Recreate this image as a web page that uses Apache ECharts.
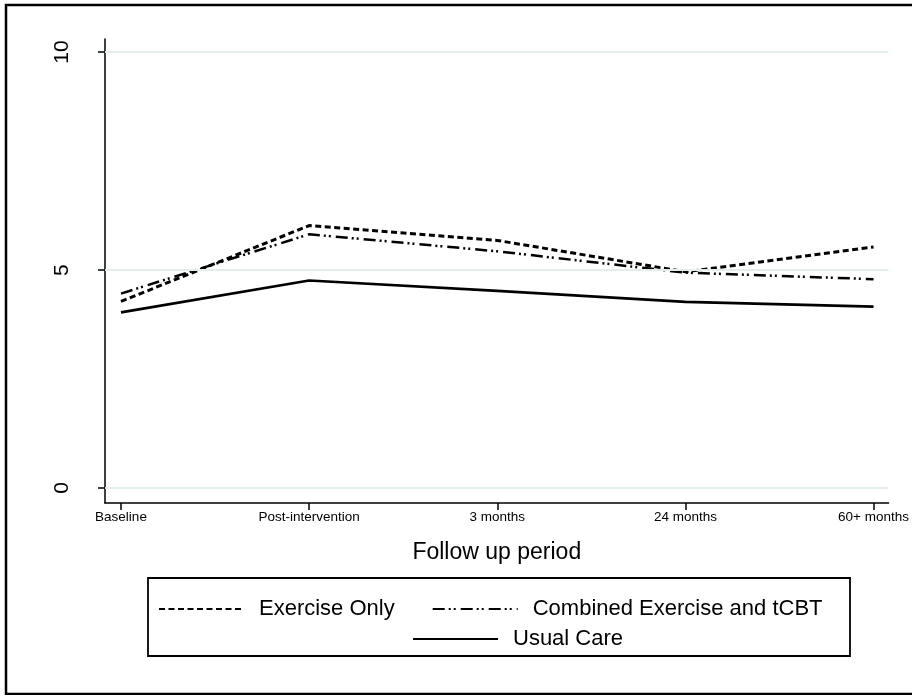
<!DOCTYPE html>
<html>
<head>
<meta charset="utf-8">
<script src="https://cdn.jsdelivr.net/npm/echarts@6/dist/echarts.min.js"></script>
<style>
html,body{margin:0;padding:0;background:#fff;}
#chart{width:912px;height:695px;}
</style>
</head>
<body>
<div id="chart"></div>
<script>
var categories = ['Baseline', 'Post-intervention', '3 months', '24 months', '60+ months'];
var exerciseOnly = [4.28, 6.02, 5.68, 4.96, 5.53];
var combinedExercise = [4.46, 5.82, 5.43, 4.94, 4.79];
var usualCare = [4.03, 4.76, 4.52, 4.27, 4.16];
var yTicks = [0, 5, 10];
var seriesNames = ['Exercise Only', 'Combined Exercise and tCBT', 'Usual Care'];

function pairs(vals) { return categories.map(function (c, i) { return [i, vals[i]]; }); }
var FONT = '"Liberation Sans", Arial, sans-serif';
var xIdx = categories.map(function (c, i) { return i; });

var chart = echarts.init(document.getElementById('chart'), null, {renderer: 'canvas'});
chart.setOption({
  animation: false,
  backgroundColor: '#ffffff',
  grid: {left: 105, right: 20, top: 39, bottom: 192, containLabel: false},
  xAxis: {
    type: 'value', min: -0.085, max: 4.08,
    name: 'Follow up period', nameLocation: 'middle', nameGap: 38,
    nameTextStyle: {fontFamily: FONT, fontSize: 23, color: '#000'},
    axisLine: {show: true, onZero: false, lineStyle: {color: '#000', width: 1.5}},
    axisTick: {show: true, length: 7, lineStyle: {color: '#000', width: 1.5}, customValues: xIdx},
    axisLabel: {show: true, margin: 7, fontFamily: FONT, fontSize: 13.5, color: '#000',
      customValues: xIdx,
      formatter: function (v) { return categories[Math.round(v)]; }},
    splitLine: {show: false}
  },
  yAxis: {
    type: 'value', min: -0.344, max: 10.3,
    axisLine: {show: true, onZero: false, lineStyle: {color: '#000', width: 1.5}},
    axisTick: {show: true, length: 7, lineStyle: {color: '#000', width: 1.5}, customValues: yTicks},
    axisLabel: {show: true, rotate: 90, margin: 32, fontFamily: FONT, fontSize: 21, color: '#000', customValues: yTicks},
    splitLine: {show: false}
  },
  legend: [
    {data: seriesNames.slice(0, 2), left: 158, top: 598, orient: 'horizontal', padding: 0,
      itemWidth: 85, itemHeight: 14, itemGap: 37, itemStyle: {opacity: 0},
      textStyle: {fontFamily: FONT, fontSize: 22, color: '#000', padding: [0, 0, 0, 10]}},
    {data: seriesNames.slice(2), left: 412, top: 628, orient: 'horizontal', padding: 0,
      itemWidth: 85, itemHeight: 14, itemStyle: {opacity: 0},
      textStyle: {fontFamily: FONT, fontSize: 22, color: '#000', padding: [0, 0, 0, 10]}}
  ],
  graphic: [
    {type: 'rect', shape: {x: 6, y: 5, width: 930, height: 689}, style: {fill: 'none', stroke: '#000', lineWidth: 2.5}, silent: true},
    {type: 'rect', shape: {x: 148, y: 578, width: 702, height: 78}, style: {fill: 'none', stroke: '#000', lineWidth: 1.8}, silent: true}
  ],
  series: [
    {type: 'line', name: 'gridlines', data: [], z: 1, silent: true,
      markLine: {silent: true, symbol: 'none', label: {show: false},
        lineStyle: {color: '#e4eded', width: 2, type: 'solid'},
        data: yTicks.map(function (v) { return {yAxis: v}; })}},
    {type: 'line', name: seriesNames[0], data: pairs(exerciseOnly), symbol: 'none', z: 3,
      lineStyle: {color: '#000', width: 3, type: [6, 3.5]}, itemStyle: {color: '#000'}},
    {type: 'line', name: seriesNames[1], data: pairs(combinedExercise), symbol: 'none', z: 3,
      lineStyle: {color: '#000', width: 2.5, type: [12, 4, 2, 3, 2, 5]}, itemStyle: {color: '#000'}},
    {type: 'line', name: seriesNames[2], data: pairs(usualCare), symbol: 'none', z: 3,
      lineStyle: {color: '#000', width: 2.7, type: 'solid'}, itemStyle: {color: '#000'}}
  ]
});
</script>
</body>
</html>
